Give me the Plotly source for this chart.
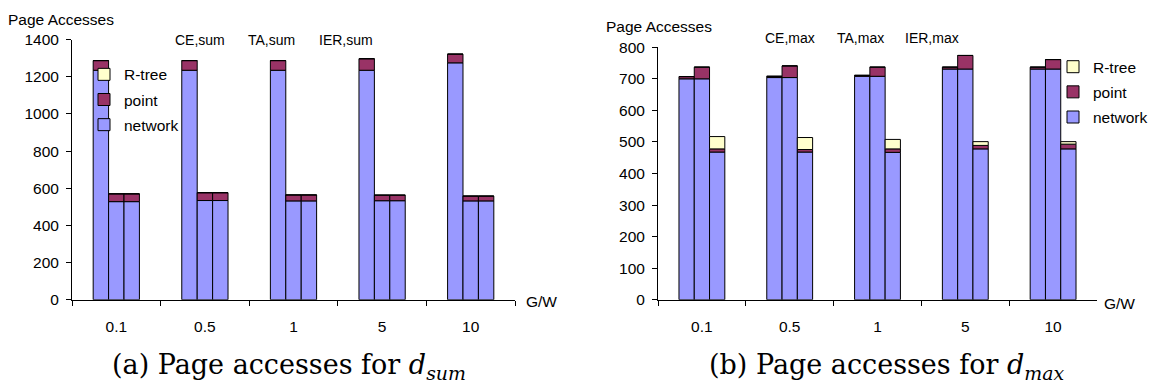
import numpy as np
import plotly.graph_objects as go

# G/W ratios on the x axis
categories = ["0.1", "0.5", "1", "5", "10"]
schemes = ["CE", "TA", "IER"]

# (a) aggregate d_sum: page accesses split by index type
sum_ce_network = [1235, 1235, 1235, 1235, 1275]
sum_ce_point = [52, 52, 52, 62, 47]
sum_ce_rtree = [0, 0, 0, 0, 0]
sum_ta_network = [528, 534, 532, 533, 532]
sum_ta_point = [42, 42, 32, 30, 26]
sum_ta_rtree = [0, 0, 0, 0, 0]
sum_ier_network = [528, 534, 532, 533, 532]
sum_ier_point = [42, 42, 32, 30, 26]
sum_ier_rtree = [0, 0, 0, 0, 0]

# (b) aggregate d_max
max_ce_network = [700, 704, 708, 731, 731]
max_ce_point = [7, 4, 3, 6, 6]
max_ce_rtree = [0, 0, 0, 0, 0]
max_ta_network = [700, 704, 708, 731, 731]
max_ta_point = [37, 37, 29, 43, 30]
max_ta_rtree = [0, 0, 0, 0, 0]
max_ier_network = [468, 468, 467, 478, 478]
max_ier_point = [10, 8, 11, 11, 15]
max_ier_rtree = [39, 38, 30, 12, 8]

components = ["network", "point", "R-tree"]
colors = {"network": "#9999FF", "point": "#993366", "R-tree": "#FFFFCC"}
legend_rank = {"R-tree": 1, "point": 2, "network": 3}

sum_data = {
    "CE": [sum_ce_network, sum_ce_point, sum_ce_rtree],
    "TA": [sum_ta_network, sum_ta_point, sum_ta_rtree],
    "IER": [sum_ier_network, sum_ier_point, sum_ier_rtree],
}
max_data = {
    "CE": [max_ce_network, max_ce_point, max_ce_rtree],
    "TA": [max_ta_network, max_ta_point, max_ta_rtree],
    "IER": [max_ier_network, max_ier_point, max_ier_rtree],
}

W, H = 1155, 390
FONT = "Liberation Sans"
BAR_W = 0.174
OFFSETS = [-1.5 * BAR_W, -0.5 * BAR_W, 0.5 * BAR_W]

fig = go.Figure()


def add_panel(data, xa, ya, legend_name):
    for k, scheme in enumerate(schemes):
        base = np.zeros(len(categories))
        for ci, comp in enumerate(components):
            vals = np.array(data[scheme][ci], dtype=float)
            fig.add_trace(go.Bar(
                x=categories, y=vals, base=base.copy(),
                offset=OFFSETS[k], width=BAR_W,
                marker=dict(color=colors[comp], line=dict(color="black", width=1)),
                name=comp, legendgroup=legend_name + comp,
                legendrank=legend_rank[comp],
                showlegend=(k == 0), legend=legend_name,
                xaxis=xa, yaxis=ya, hoverinfo="x+y+name",
            ))
            base = base + vals


add_panel(sum_data, "x", "y", "legend")
add_panel(max_data, "x2", "y2", "legend2")

axis_common = dict(
    showline=True, linecolor="black", linewidth=1, mirror=False,
    ticks="outside", ticklen=5, tickcolor="black",
    showgrid=False, zeroline=False,
    tickfont=dict(family=FONT, size=15.5, color="black"),
)


def px(x):
    return x / W


def py(y):
    return 1 - y / H


legend_style = dict(
    xanchor="left", yanchor="top", traceorder="grouped", tracegroupgap=2,
    font=dict(family=FONT, size=15.5, color="black"),
    bgcolor="rgba(0,0,0,0)",
)

fig.update_layout(
    width=W, height=H,
    margin=dict(l=0, r=0, t=0, b=0),
    paper_bgcolor="white", plot_bgcolor="white",
    barmode="overlay",
    xaxis=dict(domain=[px(72), px(515)], anchor="y", type="category",
               tickson="boundaries", ticklabelstandoff=13, **axis_common),
    yaxis=dict(domain=[py(304), py(32)], anchor="x", range=[0, 1400],
               tickvals=list(range(0, 1401, 200)), ticklabelstandoff=4, **axis_common),
    xaxis2=dict(domain=[px(658), px(1097)], anchor="y2", type="category",
                tickson="boundaries", ticklabelstandoff=13, **axis_common),
    yaxis2=dict(domain=[py(304), py(40)], anchor="x2", range=[0, 800],
                tickvals=list(range(0, 801, 100)), ticklabelstandoff=4, **axis_common),
    legend=dict(x=px(84), y=py(51), **legend_style),
    legend2=dict(x=px(1053), y=py(43), **legend_style),
)

annotations = []


def label(text, x, y, size=15.5, xanchor="center", family=FONT):
    annotations.append(dict(
        text=text, x=px(x), y=py(y), xref="paper", yref="paper",
        xanchor=xanchor, yanchor="middle", showarrow=False,
        font=dict(family=family, size=size, color="black"),
    ))


label("Page Accesses", 6, 11, xanchor="left")
label("Page Accesses", 604, 18, xanchor="left")
label("G/W", 524, 306, xanchor="left")
label("G/W", 1102, 308, xanchor="left")
for name, xc in zip(schemes, [200, 271, 346]):
    label(name + ",sum", xc, 32, size=14)
for name, xc in zip(schemes, [790, 860, 932]):
    label(name + ",max", xc, 30, size=14)

label("(a) Page accesses for <i>d</i><sub><i>sum</i></sub>", 289, 374, size=27,
      family="DejaVu Serif")
label("(b) Page accesses for <i>d</i><sub><i>max</i></sub>", 886, 374, size=27,
      family="DejaVu Serif")

fig.update_layout(annotations=annotations)
fig.write_html("out.html")
